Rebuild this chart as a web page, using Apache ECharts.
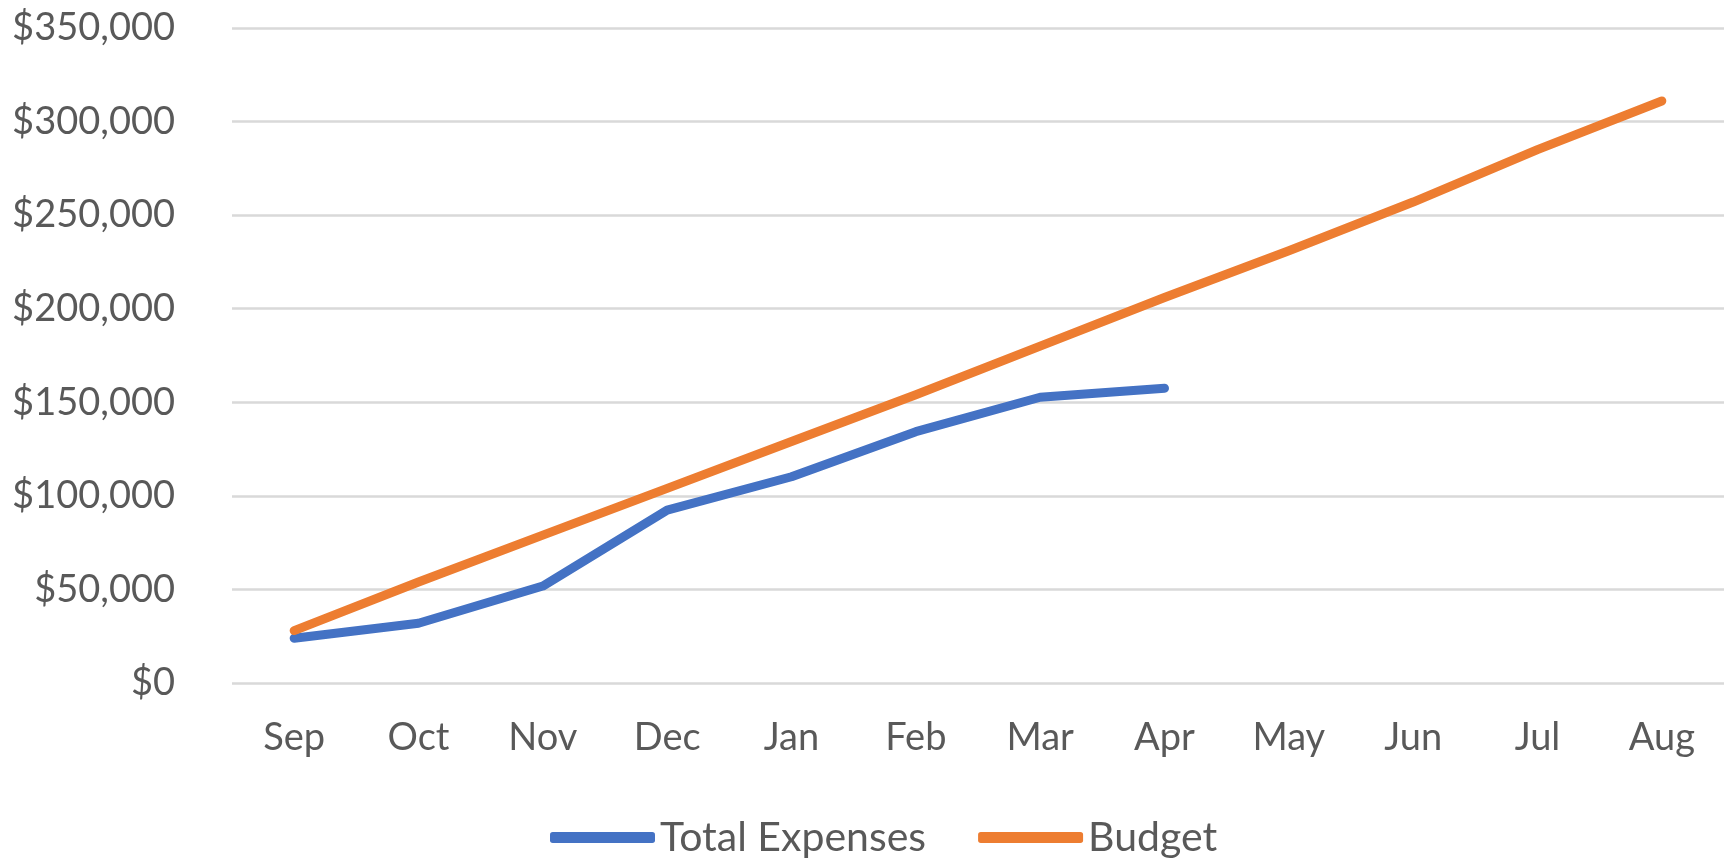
<!DOCTYPE html>
<html>
<head>
<meta charset="utf-8">
<script src="https://cdn.jsdelivr.net/npm/echarts@6/dist/echarts.min.js"></script>
<style>
  html, body { margin: 0; padding: 0; background: #fff; }
  #chart { width: 1735px; height: 858px; }
</style>
</head>
<body>
<div id="chart"></div>
<script>
// months on the x axis
var months = ['Sep', 'Oct', 'Nov', 'Dec', 'Jan', 'Feb', 'Mar', 'Apr', 'May', 'Jun', 'Jul', 'Aug'];
// cumulative spend so far (stops at Apr)
var totalExpenses = [23900, 31900, 51800, 92400, 110200, 134300, 152700, 157500, null, null, null, null];
// cumulative budget
var budget = [28000, 54000, 79000, 104000, 129000, 154000, 180000, 206000, 231000, 257000, 285000, 311000];

var textColor = '#595959';
var font = 'Lato, "Open Sans", sans-serif';

var myChart = echarts.init(document.getElementById('chart'));

var option = {
    animation: false,
    grid: {
        left: 232,
        right: 11,
        top: 28,
        bottom: 175
    },
    legend: {
        bottom: -5,
        left: 545,
        icon: 'roundRect',
        itemWidth: 105,
        itemHeight: 11,
        itemGap: 52,
        textStyle: { color: textColor, fontSize: 41, fontFamily: font }
    },
    xAxis: {
        type: 'category',
        data: months,
        boundaryGap: true,
        axisLine: { show: false },
        axisTick: { show: false },
        axisLabel: { color: textColor, fontSize: 38, fontFamily: font, margin: 36 }
    },
    yAxis: {
        type: 'value',
        min: 0,
        max: 350000,
        interval: 50000,
        axisLine: { show: false },
        axisTick: { show: false },
        splitLine: { lineStyle: { color: '#d9d9d9', width: 2.5 } },
        axisLabel: {
            color: textColor, fontSize: 38, fontFamily: font, margin: 57,
            formatter: function (v) { return '$' + v.toLocaleString('en-US'); }
        }
    },
    series: [
        {
            name: 'Total Expenses',
            type: 'line',
            data: totalExpenses,
            showSymbol: false,
            symbol: 'none',
            color: '#4472c4',
            lineStyle: { width: 9, cap: 'round', join: 'round' }
        },
        {
            name: 'Budget',
            type: 'line',
            data: budget,
            showSymbol: false,
            symbol: 'none',
            color: '#ed7d31',
            lineStyle: { width: 9, cap: 'round', join: 'round' }
        }
    ]
};

myChart.setOption(option);
</script>
</body>
</html>
